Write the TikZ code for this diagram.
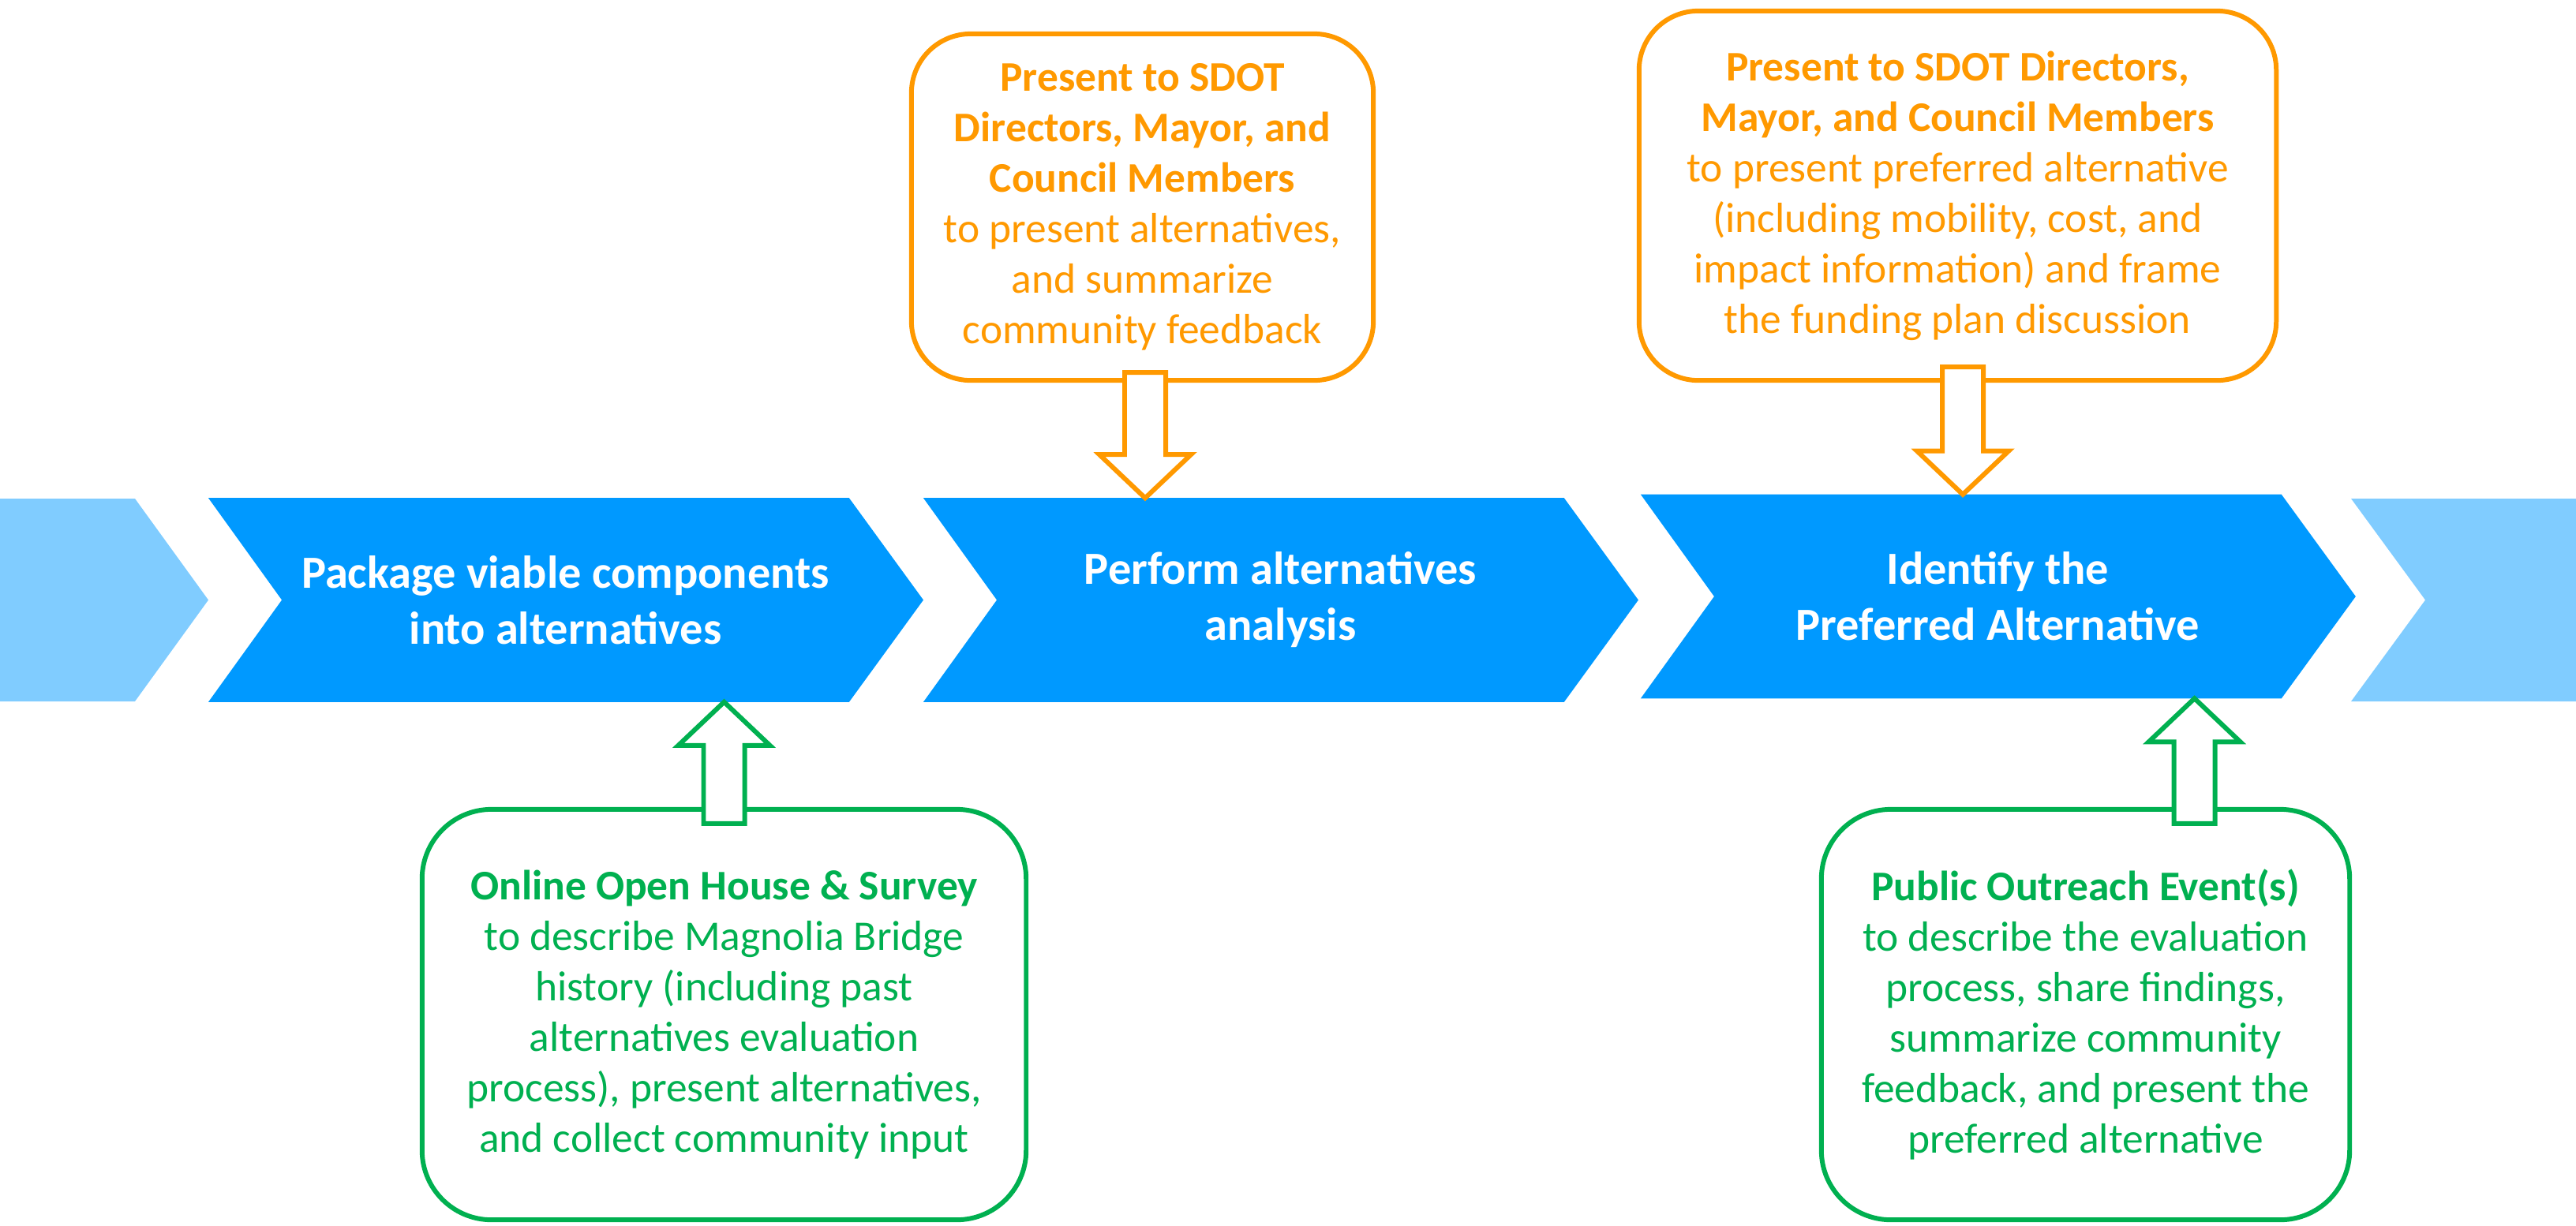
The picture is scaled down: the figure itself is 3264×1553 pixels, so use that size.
\documentclass[tikz,border=0pt]{standalone}
\usepackage{fontspec}
\setmainfont{Carlito}
\usetikzlibrary{positioning,calc,backgrounds}

\definecolor{stageblue}{HTML}{0099FF}
\definecolor{paleblue}{HTML}{80CCFF}
\definecolor{sdotorange}{HTML}{FF9900}
\definecolor{eventgreen}{HTML}{00B050}

\begin{document}
\begin{tikzpicture}[x=0.01cm, y=-0.01cm]
    \tikzset{
      stage/.style = {inner sep=0pt, minimum width=7.17cm, minimum height=2.57cm,
      align=center, text=white, font=\fontsize{16.6}{20.2}\selectfont\bfseries},
      note/.style = {draw, fill=white, line width=1.7pt, rounded corners=0.75cm,
      align=center, inner sep=0pt, font=\fontsize{15.2}{18.2}\selectfont},
      brief/.style = {note, draw=sdotorange, text=sdotorange},
      public/.style = {note, draw=eventgreen, text=eventgreen, rounded corners=0.88cm},
      block/.style = {draw, fill=white, line width=1.7pt, line join=miter,
        to path = {
          ($(\tikztostart)!0.26cm!90:(\tikztotarget)$)
          -- ($(\tikztotarget)!0.55cm!(\tikztostart)!0.26cm!90:(\tikztotarget)$)
          -- ($(\tikztotarget)!0.55cm!(\tikztostart)!0.58cm!90:(\tikztotarget)$)
          -- (\tikztotarget)
          -- ($(\tikztotarget)!0.55cm!(\tikztostart)!0.58cm!-90:(\tikztotarget)$)
          -- ($(\tikztotarget)!0.55cm!(\tikztostart)!0.26cm!-90:(\tikztotarget)$)
          -- ($(\tikztostart)!0.26cm!-90:(\tikztotarget)$)
          -- cycle
        }}
    }
    \useasboundingbox (0,0) rectangle (3264,1553);

    \node[stage] (package) at (716.5,760.5) {Package viable components\\into alternatives};
    \node[stage, right=1.87cm of package] (perform) {Perform alternatives\\analysis};
    \node[stage, right=1.9cm of perform, yshift=0.045cm] (identify) {Identify the\\Preferred Alternative};

    \begin{scope}[on background layer]
      \fill[paleblue] (0,632) -- (171,632) -- (264,760.5) -- (171,889) -- (0,889) -- cycle;
      \fill[paleblue] (2979,632) -- (3264,632) -- (3264,889) -- (2979,889) -- (3073,760.5) -- cycle;
      \fill[stageblue] ([xshift=-0.93cm]package.north west) -- (package.north east)
        -- ([xshift=0.94cm]package.east) -- (package.south east)
        -- ([xshift=-0.93cm]package.south west) -- (package.west) -- cycle;
      \fill[stageblue] ([xshift=-0.93cm]perform.north west) -- (perform.north east)
        -- ([xshift=0.94cm]perform.east) -- (perform.south east)
        -- ([xshift=-0.93cm]perform.south west) -- (perform.west) -- cycle;
      \fill[stageblue] ([xshift=-0.93cm]identify.north west) -- (identify.north east)
        -- ([xshift=0.94cm]identify.east) -- (identify.south east)
        -- ([xshift=-0.93cm]identify.south west) -- (identify.west) -- cycle;
    \end{scope}

    \node[brief, minimum width=5.85cm, minimum height=4.39cm] (brief1) at (1447.5,262.5)
      {\textbf{Present to SDOT}\\\textbf{Directors, Mayor, and}\\\textbf{Council Members}\\
       to present alternatives,\\and summarize\\community feedback};
    \node[brief, minimum width=8.07cm, minimum height=4.68cm] (brief2) at (2480.5,248)
      {\textbf{Present to SDOT Directors,}\\\textbf{Mayor, and Council Members}\\
       to present preferred alternative\\(including mobility, cost, and\\
       impact information) and frame\\the funding plan discussion};
    \node[public, minimum width=7.65cm, minimum height=5.2cm] (survey) at (917.5,1286)
      {\textbf{Online Open House \& Survey}\\to describe Magnolia Bridge\\
       history (including past\\alternatives evaluation\\
       process), present alternatives,\\and collect community input};
    \node[public, minimum width=6.69cm, minimum height=5.2cm] (event) at (2642.5,1286)
      {\textbf{Public Outreach Event(s)}\\to describe the evaluation\\
       process, share findings,\\summarize community\\
       feedback, and present the\\preferred alternative};

    % hollow arrows from the notes onto the stages
    \coordinate (brief1 foot) at ([xshift=0.035cm, yshift=0.13cm]brief1.south);
    \coordinate (brief1 tip) at (brief1 foot |- perform.north);
    \coordinate (brief2 foot) at ([xshift=0.065cm, yshift=0.2cm]brief2.south);
    \coordinate (brief2 tip) at (brief2 foot |- identify.north);
    \coordinate (survey foot) at ([yshift=-0.21cm]survey.north);
    \coordinate (survey tip) at (survey foot |- package.south);
    \coordinate (event foot) at ([xshift=1.38cm, yshift=-0.21cm]event.north);
    \coordinate (event tip) at (event foot |- identify.south);
    \draw[block, draw=sdotorange]
      (brief1 foot) to (brief1 tip)
      (brief2 foot) to (brief2 tip)
    ;
    \draw[block, draw=eventgreen]
      (survey foot) to (survey tip)
      (event foot) to (event tip)
    ;
\end{tikzpicture}
\end{document}
